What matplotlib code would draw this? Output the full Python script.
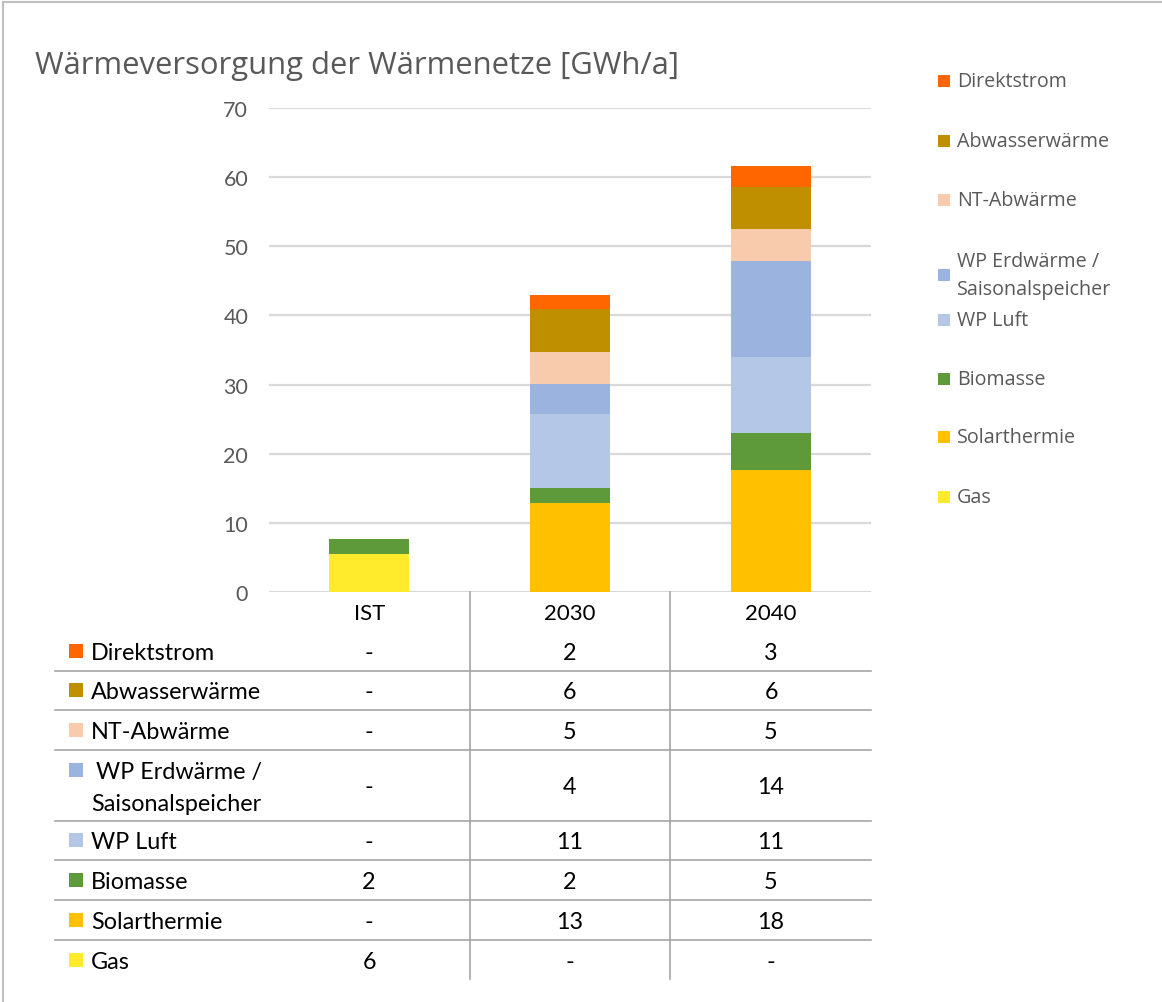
import matplotlib
matplotlib.use("Agg")
import matplotlib.pyplot as plt
from matplotlib.patches import Rectangle

# --- data -------------------------------------------------------------
categories = ["IST", "2030", "2040"]
series_names = ["Gas", "Solarthermie", "Biomasse", "WP Luft",
                "WP Erdwärme /\nSaisonalspeicher", "NT-Abwärme",
                "Abwasserwärme", "Direktstrom"]
gas = [5.55, 0.0, 0.0]
solarthermie = [0.0, 12.9, 17.7]
biomasse = [2.05, 2.1, 5.3]
wp_luft = [0.0, 10.7, 11.0]
wp_erdwaerme = [0.0, 4.4, 13.8]
nt_abwaerme = [0.0, 4.55, 4.65]
abwasserwaerme = [0.0, 6.25, 6.15]
direktstrom = [0.0, 2.1, 3.05]
y_ticks = [0, 10, 20, 30, 40, 50, 60, 70]

series_values = [gas, solarthermie, biomasse, wp_luft, wp_erdwaerme,
                 nt_abwaerme, abwasserwaerme, direktstrom]
colors = ["#FFEB2B", "#FFC000", "#5E9A3A", "#B4C7E7", "#9AB3DF",
          "#F8CBAD", "#BF8F00", "#FF6600"]

W, H = 1162, 1003
TXT = "#595959"
GRID = "#D9D9D9"
LINE = "#A6A6A6"
MAIN_FONT = ["Lato", "DejaVu Sans"]
LEG_FONT = ["Open Sans", "DejaVu Sans"]
plt.rcParams["font.family"] = MAIN_FONT

fig = plt.figure(figsize=(W / 100, H / 100), dpi=100)

# plot area in pixel terms
px_left, px_right, px_top, px_bottom = 269, 871, 109, 593
ax = fig.add_axes([px_left / W, 1 - px_bottom / H,
                   (px_right - px_left) / W, (px_bottom - px_top) / H])

x = range(len(categories))
bottom = [0.0] * len(categories)
for name, vals, col in zip(series_names, series_values, colors):
    ax.bar(x, vals, width=0.4, bottom=bottom, color=col, label=name,
           linewidth=0, zorder=3)
    bottom = [b + v for b, v in zip(bottom, vals)]

ax.set_xlim(-0.5, len(categories) - 0.5)
ax.set_ylim(0, 70)
ax.set_yticks(y_ticks)
ax.yaxis.grid(True, color=GRID, linewidth=1.6, zorder=0)
ax.set_axisbelow(True)
for s in ax.spines.values():
    s.set_visible(False)
ax.tick_params(axis="y", length=0, pad=15, labelsize=15.5, labelcolor=TXT)
ax.set_xticks(list(x))
ax.set_xticklabels(categories)
ax.tick_params(axis="x", length=0, pad=8, labelsize=16, labelcolor="black")

# --- overlay for title, legend, data table, frame ---------------------
ov = fig.add_axes([0, 0, 1, 1], zorder=5)
ov.set_xlim(0, W)
ov.set_ylim(H, 0)
ov.axis("off")
ov.patch.set_alpha(0)

# frame
ov.plot([3, W], [3, 3], color="#BFBFBF", lw=1.5)
ov.plot([3, 3], [3, H], color="#BFBFBF", lw=1.5)

ov.text(35, 74, "Wärmeversorgung der Wärmenetze [GWh/a]", fontsize=22.3,
        color=TXT, va="baseline", ha="left", family=LEG_FONT)

# legend (top entry is the last series)
legend_y = [82, 142, 201, 276, 321, 380, 438, 498]
for yy, name, col in zip(legend_y, series_names[::-1], colors[::-1]):
    ov.add_patch(Rectangle((938, yy - 6), 12, 12, color=col, lw=0))
    lines = name.split("\n")
    if len(lines) == 2:
        ov.text(957, yy - 14, lines[0], fontsize=14.2, color=TXT,
                va="center", family=LEG_FONT)
        ov.text(957, yy + 14, lines[1], fontsize=14.2, color=TXT,
                va="center", family=LEG_FONT)
    else:
        ov.text(957, yy, name, fontsize=14.2, color=TXT, va="center",
                family=LEG_FONT)

# data table
row_centers = [652, 691, 731, 786, 841, 881, 921, 961]
row_lines = [672, 711, 751, 822, 861, 901, 941]
col_centers = [369, 570, 771]
for yy in row_lines:
    ov.plot([55, px_right], [yy, yy], color=LINE, lw=1.2)
for xx in [470, 670]:
    ov.plot([xx, xx], [px_bottom, 980], color=LINE, lw=1.2)

TFS = 16.8
for yy, name, col, vals in zip(row_centers, series_names[::-1],
                               colors[::-1], series_values[::-1]):
    lines = name.split("\n")
    if len(lines) == 2:
        ov.add_patch(Rectangle((69, yy - 22), 14, 14, color=col, lw=0))
        ov.text(96, yy - 15 + 8, lines[0], fontsize=TFS, color="black",
                va="baseline")
        ov.text(91, yy + 17 + 8, lines[1], fontsize=TFS, color="black",
                va="baseline")
    else:
        ov.add_patch(Rectangle((69, yy - 7), 14, 14, color=col, lw=0))
        ov.text(91, yy + 8, name, fontsize=TFS, color="black", va="baseline")
    for xc, v in zip(col_centers, vals):
        label = f"{v:.0f}" if v > 0 else "-"
        ov.text(xc, yy + 8, label, fontsize=TFS, color="black",
                ha="center", va="baseline")

fig.savefig("out.png", dpi=100, facecolor="white")
